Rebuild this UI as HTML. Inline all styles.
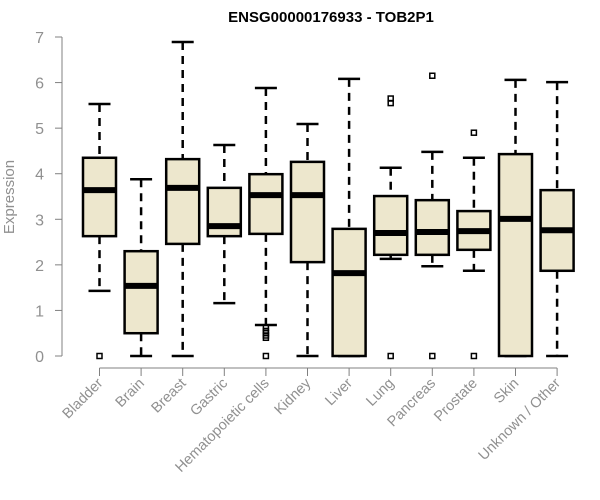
<!DOCTYPE html>
<html><head><meta charset="utf-8"><style>
body{margin:0;background:#fff}
svg{display:block;font-family:"Liberation Sans",Arial,sans-serif}
</style></head><body>
<svg id="chart" width="600" height="500">
<text x="331" y="22" text-anchor="middle" font-weight="bold" font-size="15" fill="#000">ENSG00000176933 - TOB2P1</text>
<text transform="translate(14,197) rotate(-90)" text-anchor="middle" font-size="15" fill="#909090">Expression</text>
<g id="yaxis"></g>
<g id="xaxis"></g>
<g id="boxes"></g>
</svg>
<script>
const categories=["Bladder","Brain","Breast","Gastric","Hematopoietic cells","Kidney","Liver","Lung","Pancreas","Prostate","Skin","Unknown / Other"];
const whiskerLow=[1.43,0,0,1.16,0.68,0,0,2.13,1.97,1.87,0,0];
const q1=[2.63,0.50,2.46,2.63,2.68,2.06,0,2.22,2.22,2.33,0,1.87];
const medians=[3.64,1.54,3.69,2.85,3.53,3.53,1.82,2.70,2.72,2.74,3.01,2.76];
const q3=[4.35,2.30,4.32,3.69,3.99,4.26,2.79,3.51,3.42,3.18,4.43,3.64];
const whiskerHigh=[5.53,3.88,6.89,4.63,5.88,5.09,6.08,4.13,4.48,4.35,6.06,6.01];
const outliers=[[0],[],[],[],[0.62,0.55,0.5,0.45,0.4,0],[],[],[5.55,5.65,0],[6.15,0],[4.9,0],[],[]];
const yTicks=[0,1,2,3,4,5,6,7];
const NS="http://www.w3.org/2000/svg";
const y=v=>356-v*45.57;
const x=i=>99.5+i*41.6;
function mk(tag,attrs,parent){const e=document.createElementNS(NS,tag);for(const k in attrs)e.setAttribute(k,attrs[k]);parent.appendChild(e);return e;}
const ya=document.getElementById('yaxis'),xa=document.getElementById('xaxis'),bx=document.getElementById('boxes');
mk('line',{x1:62,x2:62,y1:y(0),y2:y(7),stroke:'#808080'},ya);
yTicks.forEach(t=>{
 const l=mk('line',{x1:55,x2:62,y1:y(t),y2:y(t),stroke:'#808080'},ya);
 
 
 const tx=mk('text',{x:44,y:y(t)+6,'text-anchor':'end','font-size':16,fill:'#909090'},ya);
 tx.textContent=t;
 
 
});
mk('line',{x1:x(0),x2:x(categories.length-1),y1:368,y2:368,stroke:'#808080'},xa);
categories.forEach((c,i)=>{
 mk('line',{x1:x(i),x2:x(i),y1:368,y2:376,stroke:'#808080'},xa);
 const tx=mk('text',{transform:`translate(${x(i)+4},${384}) rotate(-45)`,'text-anchor':'end','font-size':14.5,fill:'#909090'},xa);
 tx.textContent=c;
 
 
 const g=mk('g',{},bx);
 
 
 const cx=x(i);
 mk('line',{x1:cx,x2:cx,y1:y(whiskerHigh[i]),y2:y(q3[i]),stroke:'#000','stroke-width':2.5,'stroke-dasharray':'8,6'},g);
 mk('line',{x1:cx,x2:cx,y1:y(q1[i]),y2:y(whiskerLow[i]),stroke:'#000','stroke-width':2.5,'stroke-dasharray':'8,6'},g);
 mk('line',{x1:cx-11,x2:cx+11,y1:y(whiskerHigh[i]),y2:y(whiskerHigh[i]),stroke:'#000','stroke-width':2.5},g);
 mk('line',{x1:cx-11,x2:cx+11,y1:y(whiskerLow[i]),y2:y(whiskerLow[i]),stroke:'#000','stroke-width':2.5},g);
 mk('rect',{x:cx-16.5,y:y(q3[i]),width:33,height:y(q1[i])-y(q3[i]),fill:'#ede7cd',stroke:'#000','stroke-width':2.5},g);
 mk('line',{x1:cx-16.5,x2:cx+16.5,y1:y(medians[i]),y2:y(medians[i]),stroke:'#000','stroke-width':6},g);
 outliers[i].forEach(o=>{
  const r=mk('rect',{x:cx-2.5,y:y(o)-2.5,width:5,height:5,fill:'none',stroke:'#000','stroke-width':1.5},g);
  
  
 });
});
</script>
</body></html>
